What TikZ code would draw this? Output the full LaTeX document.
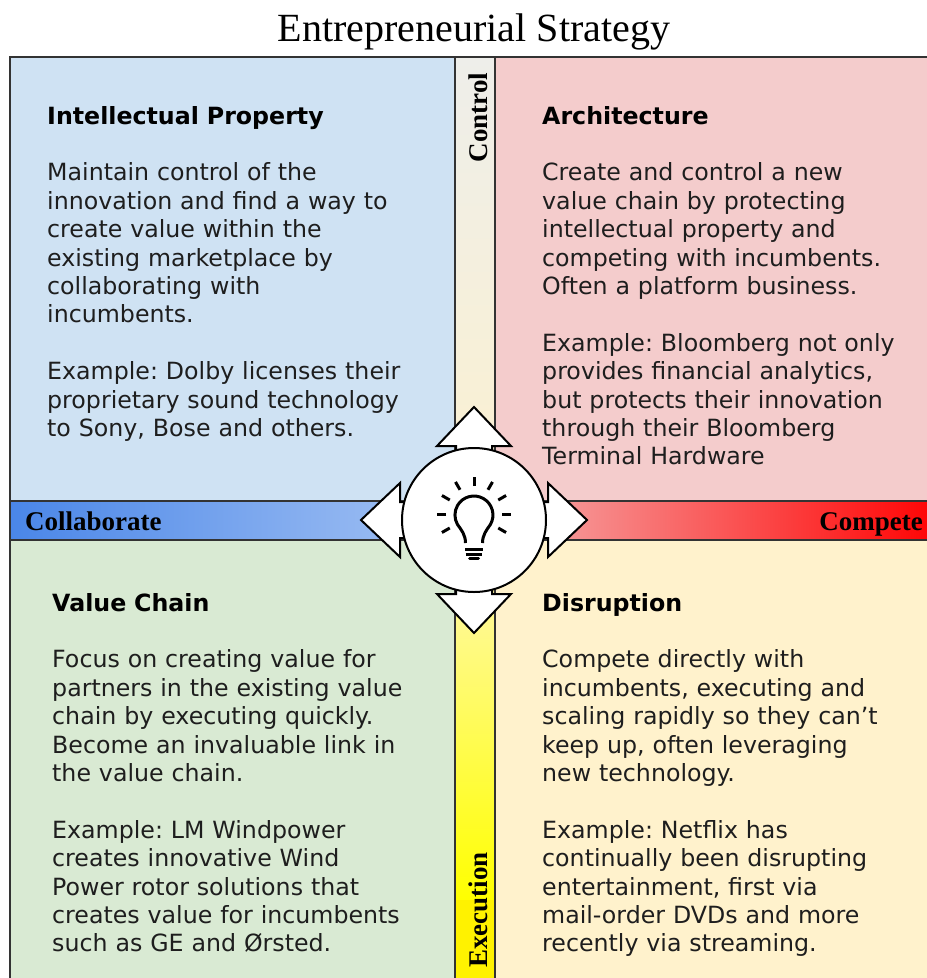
\documentclass[tikz,border=0pt]{standalone}
\usepackage{fontspec}
\setmainfont{DejaVu Sans}
\newfontfamily\serifx{Liberation Serif}
\definecolor{qblue}{HTML}{CFE2F3}
\definecolor{qred}{HTML}{F4CCCC}
\definecolor{qgreen}{HTML}{D9EAD3}
\definecolor{qyellow}{HTML}{FFF2CC}
\definecolor{edge}{HTML}{333333}
\definecolor{bodytext}{HTML}{1E1E1E}
\definecolor{barblue}{HTML}{4A86E8}
\definecolor{barlblue}{HTML}{A9C6F4}
\definecolor{barpink}{HTML}{F4B8B8}
\definecolor{bartop}{HTML}{EEEEEA}
\definecolor{barmid}{HTML}{FCF1CF}
\definecolor{barlow}{HTML}{FFF7C0}
\tikzset{
  quadbox/.style={draw=edge, line width=1.4pt},
  bodytxt/.style={anchor=base west, inner sep=0pt, text width=410pt, align=left,
    font=\frenchspacing\fontsize{23.7}{28.4}\selectfont, text=bodytext},
  barlabel/.style={font=\serifx\bfseries\fontsize{27}{30}\selectfont, inner sep=0pt, text=black},
  hubline/.style={draw=black, fill=white, line width=2pt, line join=miter},
  bulbline/.style={draw=black, line width=3pt}
}
\newcommand{\hd}[1]{{\color{black}\bfseries #1}}
\begin{document}
\begin{tikzpicture}[x=1pt,y=-1pt]
\useasboundingbox (0,0) rectangle (927,978);
\clip (0,0) rectangle (927,978);
\fill[white] (0,0) rectangle (927,978);
% quadrants
\fill[qblue] (10,57) rectangle (455,501);
\fill[qred] (495,57) rectangle (945,501);
\fill[qgreen] (10,540) rectangle (455,995);
\fill[qyellow] (495,540) rectangle (945,995);
% vertical bar
\shade[top color=bartop, bottom color=barmid] (455,57) rectangle (495,520);
\shade[top color=barlow, bottom color=yellow] (455,520) rectangle (495,900);
\fill[yellow] (455,899.5) rectangle (495,995);
% horizontal bar
\shade[left color=barblue, right color=barlblue] (10,501) rectangle (474,540);
\shade[left color=barpink, right color=red] (474,501) rectangle (945,540);
% borders
\draw[quadbox] (10,995) -- (10,57) -- (945,57);
\draw[quadbox] (455,57) -- (455,995);
\draw[quadbox] (495,57) -- (495,995);
\draw[quadbox] (10,501) -- (945,501);
\draw[quadbox] (10,540) -- (945,540);
% title
\node[anchor=base, inner sep=0pt, font=\serifx\fontsize{40}{44}\selectfont] (title) at (474,41) {Entrepreneurial Strategy};
% bar labels
\node[barlabel, anchor=base, rotate=90] (control) at (487,117.5) {Control};
\node[barlabel, anchor=base, rotate=90] (execution) at (487,910) {Execution};
\node[barlabel, anchor=base west] (collab) at (25,530) {Collaborate};
\node[barlabel, anchor=base east] (compete) at (923,530) {Compete};
% quadrant texts
\node[bodytxt] (ip) at (47,124) {\hd{Intellectual Property}\\[28.4pt]
Maintain control of the\\
innovation and find a way to\\
create value within the\\
existing marketplace by\\
collaborating with\\
incumbents.\\[28.4pt]
Example: Dolby licenses their\\
proprietary sound technology\\
to Sony, Bose and others.};
\node[bodytxt] (arch) at (542,124) {\hd{Architecture}\\[28.4pt]
Create and control a new\\
value chain by protecting\\
intellectual property and\\
competing with incumbents.\\
Often a platform business.\\[28.4pt]
Example: Bloomberg not only\\
provides financial analytics,\\
but protects their innovation\\
through their Bloomberg\\
Terminal Hardware};
\node[bodytxt] (vc) at (52,611) {\hd{Value Chain}\\[28.4pt]
Focus on creating value for\\
partners in the existing value\\
chain by executing quickly.\\
Become an invaluable link in\\
the value chain.\\[28.4pt]
Example: LM Windpower\\
creates innovative Wind\\
Power rotor solutions that\\
creates value for incumbents\\
such as GE and Ørsted.};
\node[bodytxt] (disr) at (542,611) {\hd{Disruption}\\[28.4pt]
Compete directly with\\
incumbents, executing and\\
scaling rapidly so they can’t\\
keep up, often leveraging\\
new technology.\\[28.4pt]
Example: Netflix has\\
continually been disrupting\\
entertainment, first via\\
mail-order DVDs and more\\
recently via streaming.};
% four-way arrow
\begin{scope}[shift={(474,520)}]
\draw[hubline] (0,-113) -- (37,-74) -- (18,-74) -- (18,-18) -- (74,-18) -- (74,-37) -- (113,0)
  -- (74,37) -- (74,18) -- (18,18) -- (18,74) -- (37,74) -- (0,113) -- (-37,74) -- (-18,74)
  -- (-18,18) -- (-74,18) -- (-74,37) -- (-113,0) -- (-74,-37) -- (-74,-18) -- (-18,-18)
  -- (-18,-74) -- (-37,-74) -- cycle;
\end{scope}
\node[circle, hubline, minimum size=144pt, inner sep=0pt] (hub) at (474,520) {};
% light bulb
\begin{scope}[shift={(474,514)}, yscale=-1]
\foreach \a in {90,60,30,0,-30,120,150,180,210}
  \draw[bulbline] (\a:28) -- (\a:37);
\draw[bulbline, line join=round] (8.5,-29) .. controls (8.5,-21) and (12.5,-16) .. (16.4,-10.5)
  arc[start angle=-30, end angle=210, radius=19]
  .. controls (-12.5,-16) and (-8.5,-21) .. (-8.5,-29);
\draw[bulbline] (-9,-35) -- (9,-35);
\draw[bulbline] (-8.3,-40) -- (8.3,-40);
\draw[bulbline, line cap=round] (-4.5,-44.5) -- (4.5,-44.5);
\end{scope}
\end{tikzpicture}
\end{document}
